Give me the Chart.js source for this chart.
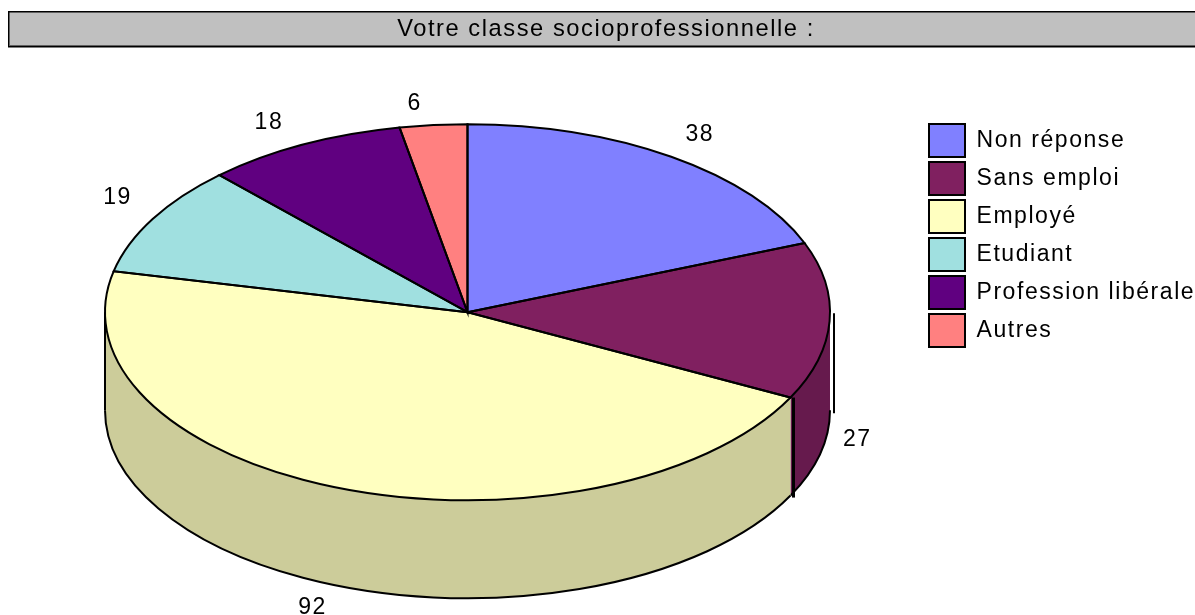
<!DOCTYPE html>
<html>
<head>
<meta charset="utf-8">
<title>Votre classe socioprofessionnelle</title>
<script src="https://cdn.jsdelivr.net/npm/chart.js@4"></script>
<style>
  html, body { margin: 0; padding: 0; background: #fff; }
  canvas { display: block; }
</style>
</head>
<body>
<canvas id="pieChart" width="1195" height="615"></canvas>
<script>
const chartTitle = "Votre classe socioprofessionnelle :";
const categories = ["Non réponse", "Sans emploi", "Employé", "Etudiant", "Profession libérale", "Autres"];
const answers = [38, 27, 92, 19, 18, 6];
const sliceColors = ["#8080FF", "#802060", "#FFFFC0", "#A0E0E0", "#600080", "#FF8080"];
const wallColors = ["#6666CC", "#661A4D", "#CCCC9A", "#80B3B3", "#4D0066", "#CC6666"];
// small nudges from the computed label anchor, the original placed them by hand
const labelNudges = [[0, 0], [-23, 117], [-15, 94], [9, -8], [-11, 1], [-14, 5]];

const fontFamily = "'Liberation Sans', Arial, sans-serif";
const textSpacing = "1.55px";
const pieRadiusX = 362.5;
const pieRadiusY = 188;
const pieDepth = 98;

function useTextSpacing(chart) {
  chart.ctx.letterSpacing = textSpacing;
}

// grey title band, it runs off the right edge of the page
const titleBand = {
  id: "titleBand",
  beforeUpdate: useTextSpacing,
  beforeDraw(chart) {
    const ctx = chart.ctx;
    useTextSpacing(chart);
    ctx.save();
    ctx.fillStyle = "#C0C0C0";
    ctx.fillRect(9, 12, 1186, 34);
    ctx.fillStyle = "#000";
    ctx.fillRect(8, 11, 1187, 1.5);
    ctx.fillRect(8, 11, 1.5, 36);
    ctx.fillRect(8, 46, 1187, 1.5);
    ctx.fillStyle = "#606060";
    ctx.fillRect(9, 45, 1186, 1);
    ctx.restore();
  },
  afterLayout(chart) {
    // the legend is full height by default, keep it beside the pie
    chart.legend.left = 924;
    chart.legend.top = 119;
  },
};

function frontRange(arc) {
  // only the part of a slice between 3 o'clock and 9 o'clock has a visible wall
  const start = Math.max(arc.startAngle, 0);
  const end = Math.min(arc.endAngle, Math.PI);
  return end > start ? [start, end] : null;
}

// Chart.js only knows round pies, so the fills get squashed to an ellipse
// and the wall and the outlines are stroked here at a constant width
const tiltedPie = {
  id: "tiltedPie",
  beforeDatasetsDraw(chart) {
    const ctx = chart.ctx;
    const arcs = chart.getDatasetMeta(0).data;
    const cx = arcs[0].x;
    const cy = arcs[0].y;

    arcs.forEach((arc, i) => {
      const range = frontRange(arc);
      if (!range) return;
      ctx.beginPath();
      ctx.ellipse(cx, cy, pieRadiusX, pieRadiusY, 0, range[0], range[1]);
      ctx.lineTo(cx + pieRadiusX * Math.cos(range[1]), cy + pieDepth + pieRadiusY * Math.sin(range[1]));
      ctx.ellipse(cx, cy + pieDepth, pieRadiusX, pieRadiusY, 0, range[1], range[0], true);
      ctx.closePath();
      ctx.fillStyle = wallColors[i];
      ctx.fill();
      ctx.beginPath();
      ctx.ellipse(cx, cy + pieDepth, pieRadiusX, pieRadiusY, 0, range[0], range[1]);
      ctx.strokeStyle = "#000";
      ctx.lineWidth = 2;
      ctx.stroke();
    });

    ctx.save();
    ctx.translate(cx, cy);
    ctx.scale(pieRadiusX / pieRadiusY, 1);
    ctx.translate(-cx, -cy);
  },
  afterDatasetsDraw(chart) {
    const ctx = chart.ctx;
    ctx.restore();
    const arcs = chart.getDatasetMeta(0).data;
    const cx = arcs[0].x;
    const cy = arcs[0].y;

    ctx.strokeStyle = "#000";
    ctx.lineWidth = 2;
    arcs.forEach((arc) => {
      ctx.beginPath();
      ctx.moveTo(cx, cy);
      ctx.ellipse(cx, cy, pieRadiusX, pieRadiusY, 0, arc.startAngle, arc.endAngle);
      ctx.closePath();
      ctx.stroke();
    });

    // wall edges: left side, the Sans emploi / Employé seam, and the stray line on the right
    const seam = arcs[1].endAngle;
    const seamX = cx + pieRadiusX * Math.cos(seam) + 3;
    const seamY = cy + pieRadiusY * Math.sin(seam);
    ctx.beginPath();
    ctx.moveTo(cx - pieRadiusX, cy);
    ctx.lineTo(cx - pieRadiusX, cy + pieDepth);
    ctx.stroke();
    ctx.lineWidth = 3;
    ctx.beginPath();
    ctx.moveTo(seamX, seamY);
    ctx.lineTo(seamX, seamY + pieDepth + 2);
    ctx.stroke();
    ctx.lineWidth = 2;
    ctx.beginPath();
    ctx.moveTo(cx + pieRadiusX + 4, cy + 1);
    ctx.lineTo(cx + pieRadiusX + 4, cy + pieDepth + 3);
    ctx.stroke();
  },
  afterDraw(chart) {
    const ctx = chart.ctx;
    const arcs = chart.getDatasetMeta(0).data;
    ctx.save();
    ctx.font = "23px " + fontFamily;
    ctx.fillStyle = "#000";
    ctx.textAlign = "center";
    ctx.textBaseline = "middle";
    arcs.forEach((arc, i) => {
      const mid = (arc.startAngle + arc.endAngle) / 2;
      const x = arc.x + 1.14 * pieRadiusX * Math.cos(mid) + labelNudges[i][0];
      const y = arc.y + 1.14 * pieRadiusY * Math.sin(mid) + labelNudges[i][1];
      ctx.fillText(String(answers[i]), x, y);
    });
    ctx.restore();
  },
};

new Chart(document.getElementById("pieChart"), {
  type: "pie",
  data: {
    labels: categories,
    datasets: [
      {
        data: answers,
        backgroundColor: sliceColors,
        borderWidth: 0,
        radius: pieRadiusY,
      },
    ],
  },
  plugins: [titleBand, tiltedPie],
  options: {
    responsive: false,
    animation: false,
    layout: {
      padding: { left: 17, right: 0, top: 0, bottom: 110 },
    },
    plugins: {
      title: {
        display: true,
        text: chartTitle,
        color: "#000",
        font: { family: fontFamily, size: 23.7, weight: "normal" },
        padding: { top: 15, bottom: 76 },
      },
      legend: {
        position: "right",
        align: "start",
        maxWidth: 277,
        labels: {
          boxWidth: 36,
          boxHeight: 33,
          padding: 5,
          color: "#000",
          font: { family: fontFamily, size: 23 },
          generateLabels: () =>
            categories.map((name, i) => ({
              text: name,
              fillStyle: sliceColors[i],
              strokeStyle: "#000",
              lineWidth: 2,
              index: i,
            })),
        },
      },
      tooltip: { enabled: false },
    },
  },
});
</script>
</body>
</html>
